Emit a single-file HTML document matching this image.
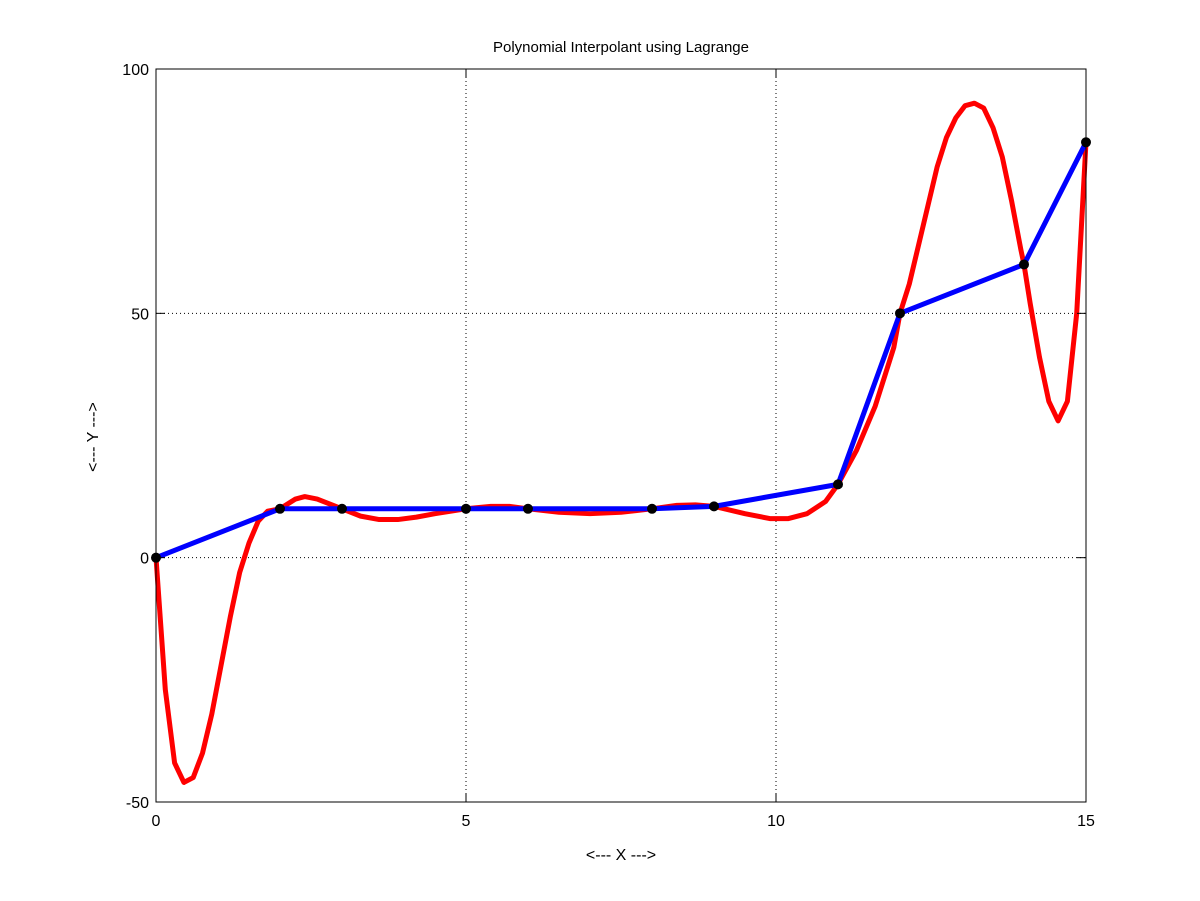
<!DOCTYPE html>
<html><head><meta charset="utf-8">
<style>
html,body{margin:0;padding:0;background:#fff;}
svg{display:block;font-family:"Liberation Sans",sans-serif;}
</style></head>
<body>
<svg id="chart" width="1200" height="901" viewBox="0 0 1200 901" xmlns="http://www.w3.org/2000/svg">
<rect x="0" y="0" width="1200" height="901" fill="#fff"/>
<g id="grid"></g>
<g id="plot"></g>
<rect x="156" y="69" width="930" height="733" fill="none" stroke="#000" stroke-width="1"/>
<g id="ticks"></g>
<text x="621" y="52" text-anchor="middle" font-size="15">Polynomial Interpolant using Lagrange</text>
<text x="621" y="860" text-anchor="middle" font-size="16">&lt;--- X ---&gt;</text>
<text x="98" y="437" text-anchor="middle" font-size="16" transform="rotate(-90 98 437)">&lt;--- Y ---&gt;</text>
</svg>
<script>
const dataX = [0,2,3,5,6,8,9,11,12,14,15];
const dataY = [0,10,10,10,10,10,10.5,15,50,60,85];
const curveX = [0,0.15,0.3,0.45,0.6,0.75,0.9,1.05,1.2,1.35,1.5,1.65,1.8,2,2.25,2.4,2.6,2.8,3,3.3,3.6,3.9,4.2,4.5,5,5.4,5.7,6,6.5,7,7.5,8,8.4,8.7,9,9.5,9.9,10.2,10.5,10.8,11,11.3,11.6,11.9,12,12.15,12.3,12.45,12.6,12.75,12.9,13.05,13.2,13.35,13.5,13.65,13.8,13.95,14,14.1,14.25,14.4,14.55,14.7,14.85,15];
const curveY = [0,-27,-42,-46,-45,-40,-32,-22,-12,-3,3,7.5,9.5,10,12,12.5,12,11,10,8.5,7.8,7.8,8.3,9,10,10.5,10.5,10,9.3,9,9.3,10,10.7,10.8,10.5,9,8,8,9,11.5,15,22,31,43,50,56,64,72,80,86,90,92.5,93,92,88,82,73,63,60,52,41,32,28,32,50,85];
const xTicks = [0,5,10,15];
const yTicks = [-50,0,50,100];
const xMin=0,xMax=15,yMin=-50,yMax=100;
const L=156,R=1086,T=69,B=802;
function sx(v){return L+(v-xMin)/(xMax-xMin)*(R-L);}
function sy(v){return B-(v-yMin)/(yMax-yMin)*(B-T);}
const NS="http://www.w3.org/2000/svg";
function mk(tag,attrs,parent){const e=document.createElementNS(NS,tag);for(const k in attrs)e.setAttribute(k,attrs[k]);parent.appendChild(e);return e;}
const grid=document.getElementById('grid'),plot=document.getElementById('plot'),ticks=document.getElementById('ticks');
xTicks.forEach(t=>{
  const x=sx(t);
  if(t!==xMin&&t!==xMax){const g=mk('line',{x1:x,x2:x,y1:T,y2:B,stroke:'#000','stroke-width':1,'stroke-dasharray':'1,3'},grid);
  
  }
  const a=mk('line',{x1:x,x2:x,y1:B,y2:B-9,stroke:'#000'},ticks);
  
  
  const b=mk('line',{x1:x,x2:x,y1:T,y2:T+9,stroke:'#000'},ticks);
  
  
  const tx=mk('text',{x:x,y:B+24,'text-anchor':'middle','font-size':16},ticks);
  tx.textContent=t;
  
  
});
yTicks.forEach(t=>{
  const y=sy(t);
  if(t!==yMin&&t!==yMax){const g=mk('line',{x1:L,x2:R,y1:y,y2:y,stroke:'#000','stroke-width':1,'stroke-dasharray':'1,3'},grid);
  
  }
  const a=mk('line',{x1:L,x2:L+9,y1:y,y2:y,stroke:'#000'},ticks);
  
  
  const b=mk('line',{x1:R,x2:R-9,y1:y,y2:y,stroke:'#000'},ticks);
  
  
  const tx=mk('text',{x:L-7,y:y+6,'text-anchor':'end','font-size':16},ticks);
  tx.textContent=t;
  
  
});
const red=mk('polyline',{points:curveX.map((x,i)=>sx(x)+','+sy(curveY[i])).join(' '),fill:'none',stroke:'#ff0000','stroke-width':5,'stroke-linejoin':'round'},plot);


const blue=mk('polyline',{points:dataX.map((x,i)=>sx(x)+','+sy(dataY[i])).join(' '),fill:'none',stroke:'#0000ff','stroke-width':5,'stroke-linejoin':'round'},plot);


dataX.forEach((x,i)=>{
  const c=mk('circle',{cx:sx(x),cy:sy(dataY[i]),r:5,fill:'#000'},plot);
  
  
});
</script>
</body></html>
